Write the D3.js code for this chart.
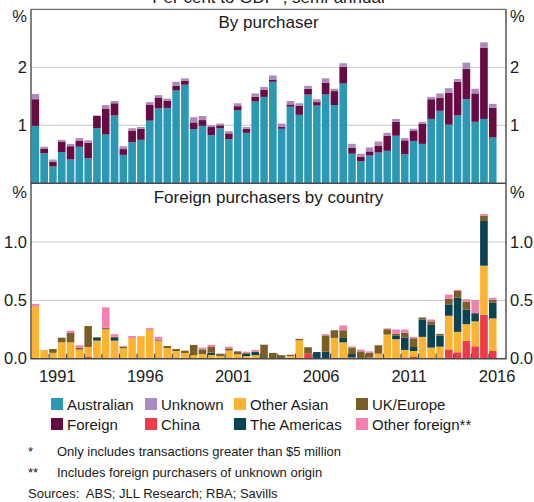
<!DOCTYPE html>
<html><head><meta charset="utf-8">
<script src="https://cdn.jsdelivr.net/npm/d3@7"></script>
<style>
html,body{margin:0;padding:0;background:#fff;}
svg{display:block;font-family:"Liberation Sans",Arial,sans-serif;}
</style></head>
<body>
<script>
const periods = ["1990 H1","1990 H2","1991 H1","1991 H2","1992 H1","1992 H2","1993 H1","1993 H2","1994 H1","1994 H2",
"1995 H1","1995 H2","1996 H1","1996 H2","1997 H1","1997 H2","1998 H1","1998 H2","1999 H1","1999 H2",
"2000 H1","2000 H2","2001 H1","2001 H2","2002 H1","2002 H2","2003 H1","2003 H2","2004 H1","2004 H2",
"2005 H1","2005 H2","2006 H1","2006 H2","2007 H1","2007 H2","2008 H1","2008 H2","2009 H1","2009 H2",
"2010 H1","2010 H2","2011 H1","2011 H2","2012 H1","2012 H2","2013 H1","2013 H2","2014 H1","2014 H2",
"2015 H1","2015 H2","2016 H1"];

// Top panel: by purchaser (% of GDP)
const australian = [0.99,0.52,0.29,0.54,0.41,0.63,0.43,0.95,0.84,1.17,0.49,0.71,0.75,1.08,1.29,1.30,1.60,1.70,0.93,0.99,
0.83,0.95,0.76,1.26,0.87,1.41,1.49,1.75,0.94,1.32,1.18,1.53,1.34,1.53,1.35,1.72,0.51,0.38,0.48,0.53,
0.56,0.82,0.50,0.73,0.68,1.11,1.25,1.01,1.17,1.45,1.06,1.11,0.79];
const foreign = [0.46,0.08,0.08,0.18,0.23,0.10,0.27,0.21,0.45,0.21,0.10,0.20,0.19,0.27,0.19,0.12,0.08,0.07,0.12,0.10,
0.14,0.05,0.10,0.07,0.07,0.08,0.12,0.04,0.03,0.04,0.16,0.10,0.06,0.20,0.24,0.29,0.10,0.08,0.07,0.12,
0.26,0.24,0.24,0.18,0.35,0.34,0.22,0.55,0.58,0.52,0.49,1.23,0.51];
const unknown = [0.09,0.03,0.04,0.03,0.04,0.05,0.04,0.01,0.06,0.04,0.05,0.04,0.03,0.05,0.04,0.04,0.07,0.04,0.09,0.07,
0.03,0.03,0.04,0.05,0.03,0.06,0.05,0.07,0.06,0.06,0.04,0.05,0.05,0.08,0.04,0.06,0.07,0.05,0.07,0.07,
0.05,0.05,0.04,0.03,0.03,0.04,0.08,0.08,0.05,0.11,0.08,0.09,0.07];

// Bottom panel: foreign purchasers by country (% of GDP)
const china = [0,0,0,0,0,0,0.015,0,0,0,0,0,0,0,0,0,0,0,0,0,
0,0,0,0,0,0,0,0,0,0,0,0.043,0,0,0,0,0,0,0.01,0,
0,0,0,0.02,0,0,0,0.08,0.055,0.155,0.106,0.377,0.066];
const otherAsian = [0.45,0.075,0.05,0.14,0.14,0.078,0.085,0.155,0.253,0.155,0.09,0.178,0.193,0.245,0.15,0.092,0.066,0.049,0.03,0.04,
0.032,0.023,0.069,0.037,0.023,0.03,0.005,0.005,0.005,0.023,0.158,0,0,0,0.178,0.14,0.01,0.005,0,0.043,
0.207,0.167,0.075,0.046,0.187,0.095,0.103,0.288,0.175,0.141,0.214,0.42,0.279];
const americas = [0,0,0,0,0,0,0,0.023,0.007,0.023,0,0,0,0,0,0,0,0,0,0,
0.02,0,0,0,0.02,0.027,0,0,0,0,0,0,0.057,0.06,0,0.038,0.03,0,0,0,
0,0.033,0.105,0.034,0.149,0.195,0.095,0.098,0.293,0.126,0.07,0.383,0.135];
const ukEurope = [0,0,0.033,0.04,0.08,0.017,0.18,0.007,0.005,0.01,0.013,0,0,0.005,0.008,0.017,0.017,0.02,0.088,0.04,
0.048,0.02,0.02,0.026,0.007,0.005,0.115,0.045,0.025,0.011,0.012,0.055,0,0.14,0.066,0.066,0.055,0.058,0.042,0.072,
0.046,0.015,0.044,0.075,0.017,0.03,0.015,0.048,0.057,0.068,0,0.044,0.026];
const otherForeign = [0.02,0,0,0,0.02,0.02,0,0,0.175,0.022,0.007,0.017,0,0.012,0.029,0,0,0,0,0.015,
0.018,0,0.014,0,0.01,0.013,0,0,0,0,0,0,0,0.01,0,0.041,0.011,0.015,0.011,0,
0.007,0.035,0.026,0.012,0,0.016,0,0.035,0.01,0.02,0.113,0.016,0.017];

const topTicks = [1, 2];
const bottomTicks = [0.0, 0.5, 1.0];
const yearLabels = [1991, 1996, 2001, 2006, 2011, 2016];

const topKeys = ["australian","foreign","unknown"];
const bottomKeys = ["china","otherAsian","americas","ukEurope","otherForeign"];
const colors = {
  australian:"#2b98b5", foreign:"#660b44", unknown:"#ae8bbf",
  china:"#ee3b46", otherAsian:"#fcb331", americas:"#0b4352", ukEurope:"#7a5e25", otherForeign:"#f47fb0"
};
const legendItems = [
  ["australian","Australian"],["unknown","Unknown"],["otherAsian","Other Asian"],["ukEurope","UK/Europe"],
  ["foreign","Foreign"],["china","China"],["americas","The Americas"],["otherForeign","Other foreign**"]
];

const W = 534, H = 502;
const L = 31, R = 506;
const topY0 = 183.3, topY1 = 9.3;
const botY0 = 358.7, botY1 = 183.7;
const txt = "#1a1a1a", frame = "#4a4a4a", grid = "#c9c9c9";

const svg = d3.select("body").append("svg").attr("width", W).attr("height", H);

const parse = p => { const [y, h] = p.split(" "); return new Date(+y, h === "H1" ? 0 : 6, 1); };
const endOf = p => { const [y, h] = p.split(" "); return h === "H1" ? new Date(+y, 6, 1) : new Date(+y + 1, 0, 1); };

const x = d3.scaleTime().domain([new Date(1990,0,1), new Date(2017,0,1)]).range([L, R]);
const yTop = d3.scaleLinear().domain([0, 3]).range([topY0, topY1]);
const yBot = d3.scaleLinear().domain([0, 1.5]).range([botY0, botY1]);

const topRows = periods.map((p, i) => ({p, australian: australian[i], foreign: foreign[i], unknown: unknown[i]}));
const botRows = periods.map((p, i) => ({p, china: china[i], otherAsian: otherAsian[i], americas: americas[i], ukEurope: ukEurope[i], otherForeign: otherForeign[i]}));

// gridlines
svg.append("g").selectAll("line").data(topTicks).join("line")
  .attr("x1", L).attr("x2", R).attr("y1", d => yTop(d)).attr("y2", d => yTop(d))
  .attr("stroke", grid).attr("stroke-width", 1);
svg.append("g").selectAll("line").data(bottomTicks.filter(d => d > 0)).join("line")
  .attr("x1", L).attr("x2", R).attr("y1", d => yBot(d)).attr("y2", d => yBot(d))
  .attr("stroke", grid).attr("stroke-width", 1);

function drawStack(rows, keys, y) {
  const series = d3.stack().keys(keys)(rows);
  svg.append("g").selectAll("g").data(series).join("g")
    .attr("fill", s => colors[s.key])
    .selectAll("rect").data(s => s).join("rect")
    .attr("x", d => x(parse(d.data.p)) + 0.6)
    .attr("width", d => x(endOf(d.data.p)) - x(parse(d.data.p)) - 1.2)
    .attr("y", d => y(d[1]))
    .attr("height", d => Math.max(0, y(d[0]) - y(d[1])));
}
drawStack(topRows, topKeys, yTop);
drawStack(botRows, bottomKeys, yBot);

// year ticks (inward) on bottom axis
const tickYears = d3.range(1991, 2017).map(y => new Date(y, 0, 1));
svg.append("g").attr("transform", `translate(0,${botY0})`)
  .call(d3.axisBottom(x).tickValues(tickYears).tickSize(-5).tickFormat(""))
  .call(g => g.select(".domain").remove())
  .call(g => g.selectAll("line").attr("stroke", frame).attr("stroke-width", 1.2));

// frame
const fr = svg.append("g").attr("stroke", frame).attr("stroke-width", 1.4).attr("fill", "none");
fr.append("line").attr("x1", L).attr("x2", R).attr("y1", topY1).attr("y2", topY1).attr("stroke-width", 1);
fr.append("line").attr("x1", L).attr("x2", L).attr("y1", topY1).attr("y2", botY0);
fr.append("line").attr("x1", R).attr("x2", R).attr("y1", topY1).attr("y2", botY0);
fr.append("line").attr("x1", L).attr("x2", R).attr("y1", topY0).attr("y2", topY0);
fr.append("line").attr("x1", L - 0.7).attr("x2", R + 0.7).attr("y1", botY0).attr("y2", botY0);

// y tick labels
const fs = 16.5;
function yLabels(ticks, y, fmt) {
  const g = svg.append("g").attr("font-size", fs).attr("fill", txt);
  g.selectAll("text.l").data(ticks).join("text").attr("class","l")
    .attr("x", L - 4).attr("y", d => y(d)).attr("dy", "0.35em").attr("text-anchor", "end").text(fmt);
  g.selectAll("text.r").data(ticks).join("text").attr("class","r")
    .attr("x", R + 4).attr("y", d => y(d)).attr("dy", "0.35em").attr("text-anchor", "start").text(fmt);
}
yLabels(topTicks, yTop, d3.format("d"));
yLabels(bottomTicks, yBot, d3.format(".1f"));

// % units
const pct = svg.append("g").attr("font-size", fs).attr("fill", txt);
[[L - 4, "end"], [R + 4, "start"]].forEach(([xx, a]) => {
  pct.append("text").attr("x", xx).attr("y", 22).attr("text-anchor", a).text("%");
  pct.append("text").attr("x", xx).attr("y", 198).attr("text-anchor", a).text("%");
});

// x labels
svg.append("g").attr("font-size", fs).attr("fill", txt).attr("text-anchor", "middle")
  .selectAll("text").data(yearLabels).join("text")
  .attr("x", d => x(new Date(d, 6, 1))).attr("y", 382).text(d => d);

// titles
svg.append("text").attr("x", (L + R) / 2).attr("y", 3).attr("text-anchor", "middle")
  .attr("font-size", 17).attr("fill", txt).text("Per cent to GDP*, semi-annual");
svg.append("text").attr("x", (L + R) / 2).attr("y", 28).attr("text-anchor", "middle")
  .attr("font-size", 17).attr("fill", txt).text("By purchaser");
svg.append("text").attr("x", (L + R) / 2).attr("y", 203).attr("text-anchor", "middle")
  .attr("font-size", 17).attr("fill", txt).text("Foreign purchasers by country");

// legend
const colX = [51, 145, 234, 356];
const rowY = [398, 418];
const lg = svg.append("g").attr("font-size", 15).attr("fill", txt);
legendItems.forEach(([k, label], i) => {
  const cx = colX[i % 4], ry = rowY[Math.floor(i / 4)];
  lg.append("rect").attr("x", cx).attr("y", ry).attr("width", 12).attr("height", 12).attr("fill", colors[k]);
  lg.append("text").attr("x", cx + 16).attr("y", ry + 11.5).text(label);
});

// notes
const notes = svg.append("g").attr("font-size", 13).attr("fill", txt);
notes.append("text").attr("x", 28).attr("y", 456).text("*");
notes.append("text").attr("x", 57).attr("y", 456).text("Only includes transactions greater than $5 million");
notes.append("text").attr("x", 28).attr("y", 477).text("**");
notes.append("text").attr("x", 57).attr("y", 477).text("Includes foreign purchasers of unknown origin");
notes.append("text").attr("x", 28).attr("y", 498).attr("xml:space", "preserve").text("Sources:  ABS; JLL Research; RBA; Savills");
</script>
</body></html>
